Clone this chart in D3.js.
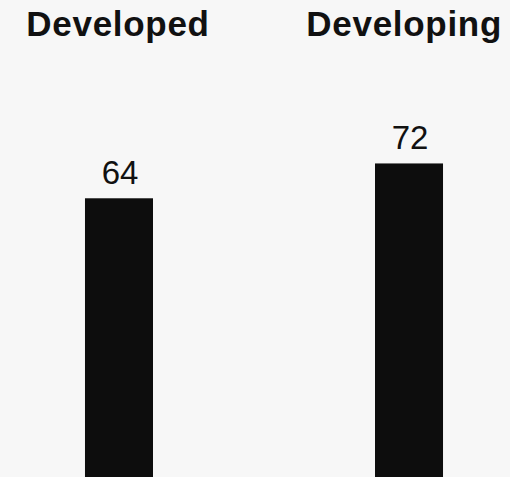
<!DOCTYPE html>
<html>
<head>
<meta charset="utf-8">
<script src="https://cdn.jsdelivr.net/npm/d3@7"></script>
<style>
  html, body { margin: 0; padding: 0; background: #f7f7f7; }
  svg { display: block; }
</style>
</head>
<body>
<svg id="chart" width="510" height="477"></svg>
<script>
const categories = ["Developed", "Developing"];
const values = [64, 72];
const valueLabels = ["64", "72"];

const W = 510, H = 477;
const svg = d3.select("#chart");
svg.append("rect").attr("width", W).attr("height", H).attr("fill", "#f7f7f7");

const x = d3.scaleBand()
  .domain(categories)
  .range([0, 528])
  .paddingInner(0.7655)
  .paddingOuter(0.293);

const y = d3.scaleLinear().domain([0, 100]).range([H, 41.5]);

svg.selectAll("rect.bar")
  .data(categories)
  .join("rect")
  .attr("class", "bar")
  .attr("x", d => x(d))
  .attr("width", x.bandwidth())
  .attr("y", (d, i) => y(values[i]))
  .attr("height", (d, i) => y(0) - y(values[i]))
  .attr("fill", "#0d0d0d");

svg.selectAll("text.val")
  .data(categories)
  .join("text")
  .attr("class", "val")
  .attr("x", d => x(d) + x.bandwidth() / 2 + 1)
  .attr("y", (d, i) => y(values[i]) - 14.5)
  .attr("text-anchor", "middle")
  .attr("font-family", "Liberation Sans, Arial, sans-serif")
  .attr("font-size", 33)
  .attr("fill", "#111")
  .text((d, i) => valueLabels[i]);

const titles = svg.selectAll("text.title")
  .data(categories)
  .join("text")
  .attr("class", "title")
  .attr("y", 35.5)
  .attr("text-anchor", "middle")
  .attr("font-family", "Liberation Sans, Arial, sans-serif")
  .attr("font-weight", "bold")
  .attr("font-size", 35)
  .attr("letter-spacing", 0.7)
  .attr("fill", "#111")
  .text(d => d);

titles.each(function(d) {
  const w = this.getComputedTextLength();
  let cx = x(d) + x.bandwidth() / 2 - 1;
  const maxRight = W - 8;
  if (cx + w / 2 > maxRight) cx = maxRight - w / 2;
  d3.select(this).attr("x", cx);
});
</script>
</body>
</html>
